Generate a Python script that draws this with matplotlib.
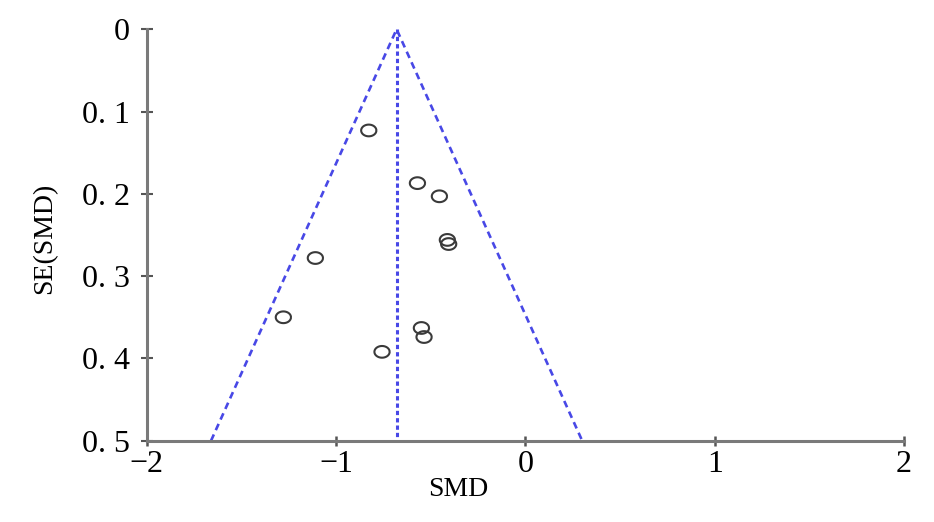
import numpy as np
import matplotlib
matplotlib.use("Agg")
import matplotlib.pyplot as plt

# Data
smd = [-0.827, -0.570, -0.454, -0.412, -0.405, -1.109, -1.278, -0.549, -0.535, -0.757]
se_smd = [0.123, 0.187, 0.203, 0.256, 0.261, 0.278, 0.350, 0.363, 0.374, 0.392]
pooled = -0.68
se_max = 0.5
xticks = [-2, -1, 0, 1, 2]
yticks = [0, 0.1, 0.2, 0.3, 0.4, 0.5]
ytick_labels = ["0", "0. 1", "0. 2", "0. 3", "0. 4", "0. 5"]

plt.rcParams['font.family'] = ['Liberation Serif', 'DejaVu Serif']

fig = plt.figure(figsize=(9.34, 5.22), dpi=100)
ax = fig.add_axes([0.157, 0.1557, 0.811, 0.7883])

blue = '#4848e6'
# funnel lines
ax.plot([pooled - 1.96 * se_max, pooled, pooled + 1.96 * se_max], [se_max, 0, se_max],
        color=blue, lw=1.9, ls=(0, (2.6, 1.8)), zorder=2)
ax.plot([pooled, pooled], [0, se_max], color=blue, lw=2.2, ls=(0, (1.4, 1.0)), zorder=2)

# ellipse marker
t = np.linspace(0, 2 * np.pi, 60)
ell = np.column_stack([np.cos(t) * 1.3, np.sin(t)])
ax.scatter(smd, se_smd, marker=ell, s=120, facecolors='none', edgecolors='#3a3a3a',
           linewidths=1.5, zorder=3)

ax.set_xlim(-2, 2)
ax.set_ylim(se_max, 0)
ax.set_xticks(xticks)
ax.set_xticklabels(["\u22122", "\u22121", "0", "1", "2"])
ax.set_yticks(yticks)
ax.set_yticklabels(ytick_labels)

for s in ['top', 'right']:
    ax.spines[s].set_visible(False)
for s in ['left', 'bottom']:
    ax.spines[s].set_color('#7a7a7a')
    ax.spines[s].set_linewidth(2.2)

ax.tick_params(axis='y', direction='inout', length=8.5, width=1.5, color='#555555',
               pad=8, labelsize=23)
ax.tick_params(axis='x', direction='inout', length=7.5, width=1.8, color='#555555',
               pad=3, labelsize=23)

fig.text(458 / 934, 1 - 490 / 522, "SMD", fontsize=20, ha='center', va='center')
fig.text(45 / 934, 1 - 238 / 522, "SE(SMD)", fontsize=20, ha='center', va='center',
         rotation=90)

fig.savefig("out.png", dpi=100)
